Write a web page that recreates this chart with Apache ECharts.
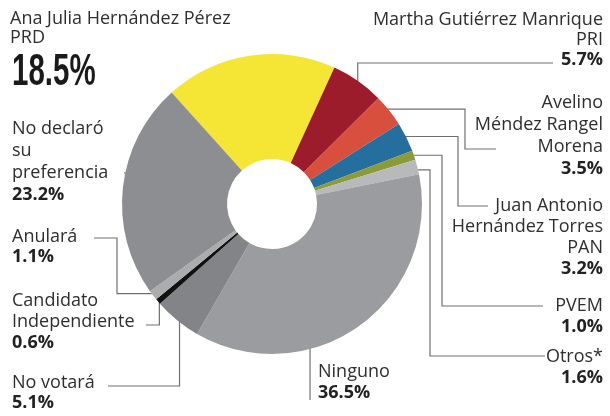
<!DOCTYPE html>
<html>
<head>
<meta charset="utf-8">
<script src="https://cdn.jsdelivr.net/npm/echarts@6/dist/echarts.min.js"></script>
<style>
  html, body { margin: 0; padding: 0; background: #fff; }
  #chart { width: 610px; height: 416px; }
</style>
</head>
<body>
<div id="chart"></div>
<script>
// datos de la encuesta
const names = [
  'Ana Julia Hernández Pérez',
  'Martha Gutiérrez Manrique',
  'Avelino\nMéndez Rangel',
  'Juan Antonio\nHernández Torres',
  'PVEM',
  'Otros*',
  'Ninguno',
  'No votará',
  'Candidato\nIndependiente',
  'Anulará',
  'No declaró\nsu\npreferencia'
]
const parties = ['PRD', 'PRI', 'Morena', 'PAN', '', '', '', '', '', '', '']
const values = [18.5, 5.7, 3.5, 3.2, 1.0, 1.6, 36.5, 5.1, 0.6, 1.1, 23.2]
const colors = ['#f5e534', '#9d1c2c', '#d8503d', '#246f9e', '#8c9b3a', '#b8b9bb',
  '#9b9c9f', '#838487', '#111111', '#abacae', '#8d8e91']

// geometria del pastel
const CX = 272, CY = 204, R = 150, R0 = 45, START = 132
const total = values.reduce((a, b) => a + b, 0)

// punto dentro de la rebanada i: t = fraccion angular, rf = fraccion del radio
function anchor(i, t, rf) {
  let before = 0
  for (let k = 0; k < i; k++) before += values[k]
  const deg = (90 - START) + (before + t * values[i]) / total * 360
  const rad = deg * Math.PI / 180
  return [CX + R * rf * Math.sin(rad), CY - R * rf * Math.cos(rad)]
}

const labelPos = [
  { x: 10, y: 9, align: 'left', lh: 19 },
  { x: 603, y: 10, align: 'right', lh: 20, a: [0.5, 1.0], path: a => [a, [a[0], 63], [553, 63]] },
  { x: 603, y: 92, align: 'right', lh: 22, a: [0.25, 0.95], path: a => [a, [465, a[1]], [465, 149], [496, 149]] },
  { x: 603, y: 195, align: 'right', lh: 21, a: [0.32, 0.94], path: a => [a, [458, a[1]], [458, 206], [488, 206]] },
  { x: 603, y: 295, align: 'right', lh: 21, a: [0.5, 1.0], path: a => [a, [442, a[1]], [442, 306], [543, 306]] },
  { x: 603, y: 346, align: 'right', lh: 21, a: [0.7, 1.0], path: a => [a, [430, a[1]], [430, 356], [545, 356]] },
  { x: 318, y: 361, align: 'left', lh: 21, a: [0.61, 0.7], path: a => [a, [a[0], 400]] },
  { x: 12, y: 373, align: 'left', lh: 20, a: [0.57, 0.95], path: a => [a, [a[0], 386], [108, 386]] },
  { x: 12, y: 290, align: 'left', lh: 21, a: [0.45, 0.99], path: a => [a, [a[0], 325], [146, 325]] },
  { x: 12, y: 227, align: 'left', lh: 20, a: [0.7, 1.0], path: a => [a, [117, a[1]], [117, 238], [94, 238]] },
  { x: 12, y: 118, align: 'left', lh: 22, a: [0.59, 0.87], path: a => [a, [124, a[1]]] }
]

function makeRich(lh) {
  return {
    n: { fontFamily: 'Open Sans', fontSize: 18, color: '#2e2e2e', lineHeight: lh },
    p: { fontFamily: 'Open Sans', fontSize: 18, fontWeight: 'bold', color: '#222', lineHeight: lh }
  }
}

const chart = echarts.init(document.getElementById('chart'))

chart.setOption({
  animation: false,
  graphic: [{
    type: 'text',
    x: 12,
    y: 51,
    scaleX: 0.67,
    style: {
      text: values[0].toFixed(1) + '%',
      font: 'bold 44px "Liberation Sans"',
      fill: '#1a1a1a'
    }
  }],
  series: [{
    type: 'pie',
    center: [CX, CY],
    radius: [R0, R],
    startAngle: START,
    clockwise: true,
    avoidLabelOverlap: false,
    silent: true,
    label: {
      show: true,
      position: 'outside',
      width: 260,
      overflow: 'none',
      formatter: p => {
        const i = p.dataIndex
        const lines = names[i].split('\n').map(s => '{n|' + s + '}')
        if (parties[i]) lines.push('{n|' + parties[i] + '}')
        if (i > 0) lines.push('{p|' + values[i].toFixed(1) + '%}')
        return lines.join('\n')
      }
    },
    labelLine: {
      show: true,
      lineStyle: { color: '#707070', width: 1.2 }
    },
    labelLayout: params => {
      const lp = labelPos[params.dataIndex]
      const out = { x: lp.x, y: lp.y, align: lp.align, verticalAlign: 'top' }
      if (lp.path) {
        out.labelLinePoints = lp.path(anchor(params.dataIndex, lp.a[0], lp.a[1]))
      }
      return out
    },
    data: values.map((v, i) => ({
      name: names[i],
      value: v,
      itemStyle: { color: colors[i] },
      label: { align: labelPos[i].align, rich: makeRich(labelPos[i].lh) },
      labelLine: { show: !!labelPos[i].path }
    }))
  }]
})
</script>
</body>
</html>
